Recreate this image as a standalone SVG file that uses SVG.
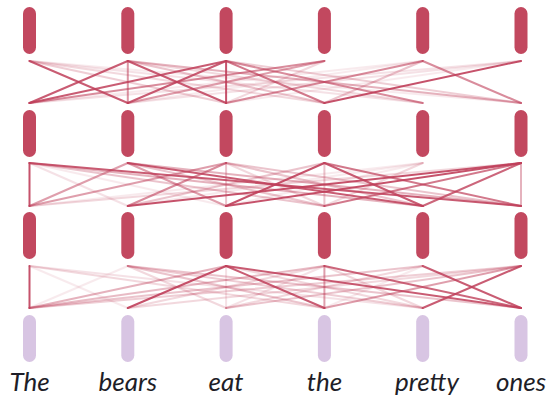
<svg xmlns="http://www.w3.org/2000/svg" width="551" height="397" viewBox="0 0 551 397">
<style>
.n{fill:#c2485f}
.p{fill:#d8c5e3}
.c line{stroke:#c0405b;stroke-width:2;stroke-linecap:round}
.t{font-family:Lato,"Open Sans",sans-serif;font-style:italic;font-size:26px;fill:#1e1e28;text-anchor:middle}
</style>
<rect width="551" height="397" fill="#fff"/>
<g class="c" id="connectors">
<!-- band 1 -->
<g>
<line x1="29.5" y1="61" x2="127.8" y2="103" opacity="0.85"/>
<line x1="29.5" y1="61" x2="226.1" y2="103" opacity="0.25"/>
<line x1="29.5" y1="61" x2="324.4" y2="103" opacity="0.2"/>
<line x1="29.5" y1="61" x2="422.7" y2="103" opacity="0.15"/>
<line x1="29.5" y1="61" x2="521" y2="103" opacity="0.1"/>
<line x1="127.8" y1="61" x2="29.5" y2="103" opacity="0.85"/>
<line x1="127.8" y1="61" x2="127.8" y2="103" opacity="0.55"/>
<line x1="127.8" y1="61" x2="226.1" y2="103" opacity="0.85"/>
<line x1="127.8" y1="61" x2="324.4" y2="103" opacity="0.3"/>
<line x1="127.8" y1="61" x2="422.7" y2="103" opacity="0.2"/>
<line x1="127.8" y1="61" x2="521" y2="103" opacity="0.4"/>
<line x1="226.1" y1="61" x2="29.5" y2="103" opacity="0.85"/>
<line x1="226.1" y1="61" x2="127.8" y2="103" opacity="0.85"/>
<line x1="226.1" y1="61" x2="226.1" y2="103" opacity="0.9"/>
<line x1="226.1" y1="61" x2="324.4" y2="103" opacity="0.7"/>
<line x1="226.1" y1="61" x2="422.7" y2="103" opacity="0.6"/>
<line x1="226.1" y1="61" x2="521" y2="103" opacity="0.25"/>
<line x1="324.4" y1="61" x2="29.5" y2="103" opacity="0.6"/>
<line x1="324.4" y1="61" x2="127.8" y2="103" opacity="0.5"/>
<line x1="324.4" y1="61" x2="226.1" y2="103" opacity="0.2"/>
<line x1="422.7" y1="61" x2="29.5" y2="103" opacity="0.1"/>
<line x1="422.7" y1="61" x2="127.8" y2="103" opacity="0.1"/>
<line x1="422.7" y1="61" x2="226.1" y2="103" opacity="0.6"/>
<line x1="422.7" y1="61" x2="324.4" y2="103" opacity="0.3"/>
<line x1="422.7" y1="61" x2="521" y2="103" opacity="0.6"/>
<line x1="521" y1="61" x2="29.5" y2="103" opacity="0.15"/>
<line x1="521" y1="61" x2="127.8" y2="103" opacity="0.15"/>
<line x1="521" y1="61" x2="226.1" y2="103" opacity="0.1"/>
<line x1="521" y1="61" x2="324.4" y2="103" opacity="0.9"/>
</g>
<!-- band 2 -->
<g>
<line x1="29.5" y1="163" x2="29.5" y2="206" opacity="0.9"/>
<line x1="29.5" y1="163" x2="127.8" y2="206" opacity="0.15"/>
<line x1="29.5" y1="163" x2="226.1" y2="206" opacity="0.1"/>
<line x1="29.5" y1="163" x2="324.4" y2="206" opacity="0.3"/>
<line x1="29.5" y1="163" x2="422.7" y2="206" opacity="0.4"/>
<line x1="29.5" y1="163" x2="521" y2="206" opacity="0.85"/>
<line x1="127.8" y1="163" x2="29.5" y2="206" opacity="0.5"/>
<line x1="127.8" y1="163" x2="226.1" y2="206" opacity="0.5"/>
<line x1="127.8" y1="163" x2="324.4" y2="206" opacity="0.3"/>
<line x1="127.8" y1="163" x2="422.7" y2="206" opacity="0.85"/>
<line x1="127.8" y1="163" x2="521" y2="206" opacity="0.4"/>
<line x1="226.1" y1="163" x2="29.5" y2="206" opacity="0.5"/>
<line x1="226.1" y1="163" x2="127.8" y2="206" opacity="0.6"/>
<line x1="226.1" y1="163" x2="226.1" y2="206" opacity="0.3"/>
<line x1="226.1" y1="163" x2="324.4" y2="206" opacity="0.2"/>
<line x1="226.1" y1="163" x2="422.7" y2="206" opacity="0.3"/>
<line x1="226.1" y1="163" x2="521" y2="206" opacity="0.3"/>
<line x1="324.4" y1="163" x2="127.8" y2="206" opacity="0.3"/>
<line x1="324.4" y1="163" x2="226.1" y2="206" opacity="0.9"/>
<line x1="324.4" y1="163" x2="324.4" y2="206" opacity="0.3"/>
<line x1="324.4" y1="163" x2="422.7" y2="206" opacity="0.85"/>
<line x1="324.4" y1="163" x2="521" y2="206" opacity="0.7"/>
<line x1="422.7" y1="163" x2="29.5" y2="206" opacity="0.1"/>
<line x1="422.7" y1="163" x2="127.8" y2="206" opacity="0.1"/>
<line x1="422.7" y1="163" x2="226.1" y2="206" opacity="0.1"/>
<line x1="422.7" y1="163" x2="324.4" y2="206" opacity="0.2"/>
<line x1="521" y1="163" x2="29.5" y2="206" opacity="0.2"/>
<line x1="521" y1="163" x2="127.8" y2="206" opacity="0.9"/>
<line x1="521" y1="163" x2="226.1" y2="206" opacity="0.9"/>
<line x1="521" y1="163" x2="324.4" y2="206" opacity="0.7"/>
<line x1="521" y1="163" x2="422.7" y2="206" opacity="0.8"/>
<line x1="521" y1="163" x2="521" y2="206" opacity="0.4"/>
</g>
<!-- band 3 -->
<g>
<line x1="29.5" y1="266" x2="29.5" y2="308" opacity="0.9"/>
<line x1="29.5" y1="266" x2="127.8" y2="308" opacity="0.1"/>
<line x1="29.5" y1="266" x2="324.4" y2="308" opacity="0.2"/>
<line x1="29.5" y1="266" x2="422.7" y2="308" opacity="0.15"/>
<line x1="127.8" y1="266" x2="29.5" y2="308" opacity="0.1"/>
<line x1="127.8" y1="266" x2="226.1" y2="308" opacity="0.2"/>
<line x1="127.8" y1="266" x2="324.4" y2="308" opacity="0.3"/>
<line x1="127.8" y1="266" x2="422.7" y2="308" opacity="0.25"/>
<line x1="127.8" y1="266" x2="521" y2="308" opacity="0.3"/>
<line x1="226.1" y1="266" x2="29.5" y2="308" opacity="0.4"/>
<line x1="226.1" y1="266" x2="127.8" y2="308" opacity="0.9"/>
<line x1="226.1" y1="266" x2="226.1" y2="308" opacity="0.15"/>
<line x1="226.1" y1="266" x2="324.4" y2="308" opacity="0.85"/>
<line x1="226.1" y1="266" x2="422.7" y2="308" opacity="0.2"/>
<line x1="226.1" y1="266" x2="521" y2="308" opacity="0.85"/>
<line x1="324.4" y1="266" x2="29.5" y2="308" opacity="0.35"/>
<line x1="324.4" y1="266" x2="127.8" y2="308" opacity="0.2"/>
<line x1="324.4" y1="266" x2="226.1" y2="308" opacity="0.15"/>
<line x1="324.4" y1="266" x2="324.4" y2="308" opacity="0.5"/>
<line x1="324.4" y1="266" x2="422.7" y2="308" opacity="0.2"/>
<line x1="324.4" y1="266" x2="521" y2="308" opacity="0.8"/>
<line x1="422.7" y1="266" x2="29.5" y2="308" opacity="0.3"/>
<line x1="422.7" y1="266" x2="226.1" y2="308" opacity="0.2"/>
<line x1="422.7" y1="266" x2="324.4" y2="308" opacity="0.1"/>
<line x1="422.7" y1="266" x2="521" y2="308" opacity="0.85"/>
<line x1="521" y1="266" x2="29.5" y2="308" opacity="0.25"/>
<line x1="521" y1="266" x2="127.8" y2="308" opacity="0.2"/>
<line x1="521" y1="266" x2="226.1" y2="308" opacity="0.3"/>
<line x1="521" y1="266" x2="324.4" y2="308" opacity="0.5"/>
<line x1="521" y1="266" x2="422.7" y2="308" opacity="0.85"/>
</g>
</g>
<g id="row3">
<g id="n3-0"><rect class="n" x="23" y="7" width="13" height="47" rx="6.5"/></g>
<g id="n3-1"><rect class="n" x="121.3" y="7" width="13" height="47" rx="6.5"/></g>
<g id="n3-2"><rect class="n" x="219.6" y="7" width="13" height="47" rx="6.5"/></g>
<g id="n3-3"><rect class="n" x="317.9" y="7" width="13" height="47" rx="6.5"/></g>
<g id="n3-4"><rect class="n" x="416.2" y="7" width="13" height="47" rx="6.5"/></g>
<g id="n3-5"><rect class="n" x="514.5" y="7" width="13" height="47" rx="6.5"/></g>
</g>
<g id="row2">
<g id="n2-0"><rect class="n" x="23" y="110" width="13" height="47" rx="6.5"/></g>
<g id="n2-1"><rect class="n" x="121.3" y="110" width="13" height="47" rx="6.5"/></g>
<g id="n2-2"><rect class="n" x="219.6" y="110" width="13" height="47" rx="6.5"/></g>
<g id="n2-3"><rect class="n" x="317.9" y="110" width="13" height="47" rx="6.5"/></g>
<g id="n2-4"><rect class="n" x="416.2" y="110" width="13" height="47" rx="6.5"/></g>
<g id="n2-5"><rect class="n" x="514.5" y="110" width="13" height="47" rx="6.5"/></g>
</g>
<g id="row1">
<g id="n1-0"><rect class="n" x="23" y="212" width="13" height="47" rx="6.5"/></g>
<g id="n1-1"><rect class="n" x="121.3" y="212" width="13" height="47" rx="6.5"/></g>
<g id="n1-2"><rect class="n" x="219.6" y="212" width="13" height="47" rx="6.5"/></g>
<g id="n1-3"><rect class="n" x="317.9" y="212" width="13" height="47" rx="6.5"/></g>
<g id="n1-4"><rect class="n" x="416.2" y="212" width="13" height="47" rx="6.5"/></g>
<g id="n1-5"><rect class="n" x="514.5" y="212" width="13" height="47" rx="6.5"/></g>
</g>
<g id="row0">
<g id="n0-0"><rect class="p" x="23" y="315" width="13" height="47" rx="6.5"/><text class="t" x="29.5" y="391">The</text></g>
<g id="n0-1"><rect class="p" x="121.3" y="315" width="13" height="47" rx="6.5"/><text class="t" x="127.8" y="391">bears</text></g>
<g id="n0-2"><rect class="p" x="219.6" y="315" width="13" height="47" rx="6.5"/><text class="t" x="226.1" y="391">eat</text></g>
<g id="n0-3"><rect class="p" x="317.9" y="315" width="13" height="47" rx="6.5"/><text class="t" x="324.4" y="391">the</text></g>
<g id="n0-4"><rect class="p" x="416.2" y="315" width="13" height="47" rx="6.5"/><text class="t" x="427" y="391">pretty</text></g>
<g id="n0-5"><rect class="p" x="514.5" y="315" width="13" height="47" rx="6.5"/><text class="t" x="521" y="391">ones</text></g>
</g>
</svg>
